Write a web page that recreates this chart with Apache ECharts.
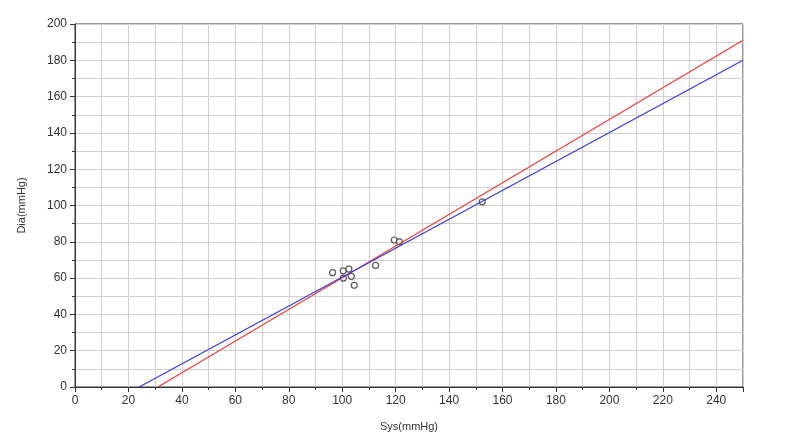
<!DOCTYPE html><html><head><meta charset="utf-8"><script src="https://cdn.jsdelivr.net/npm/echarts@6/dist/echarts.min.js"></script></head><body style="margin:0;background:#fff"><div id="c" style="width:788px;height:440px"></div><script>
var sysVals=[96.4,100.4,102.5,100.4,103.4,104.5,112.5,119.5,121.4,152.4];
var diaVals=[63,64,65,60,61,56,67,81,80,102];
var blueLine=[[24,0],[250,180]];
var redLine=[[31,0],[250,191]];
var pts=sysVals.map(function(v,i){return [v,diaVals[i]];});
function ax(){return {axisLine:{show:true,lineStyle:{color:'#333'}},axisTick:{show:true,length:5,lineStyle:{color:'#333'}},minorTick:{show:true,splitNumber:2,length:3,lineStyle:{color:'#333'}},splitLine:{show:true,lineStyle:{color:'#d0d0d0'}},minorSplitLine:{show:true,lineStyle:{color:'#d0d0d0'}},axisLabel:{color:'#333',fontSize:12,fontFamily:'Liberation Sans'},nameTextStyle:{color:'#333',fontSize:11,fontFamily:'Liberation Sans'}};}
var xa=ax(); xa.axisLabel.showMaxLabel=false;
var c=echarts.init(document.getElementById('c'));
c.setOption({animation:false,grid:{left:75,right:45,top:24,bottom:53,show:true,borderColor:'#333',borderWidth:1},
xAxis:Object.assign({type:'value',min:0,max:250,interval:20,name:'Sys(mmHg)',nameLocation:'middle',nameGap:34},xa),
yAxis:Object.assign({type:'value',min:0,max:200,interval:20,name:'Dia(mmHg)',nameLocation:'middle',nameGap:48},ax()),
series:[{type:'line',data:redLine,symbol:'none',lineStyle:{color:'#e8403a',width:1.2}},
{type:'line',data:blueLine,symbol:'none',lineStyle:{color:'#3a3ad8',width:1.2}},
{type:'scatter',data:pts,symbol:'circle',symbolSize:6,itemStyle:{color:'#fff',borderColor:'#333',borderWidth:1.2}}]});
</script></body></html>
